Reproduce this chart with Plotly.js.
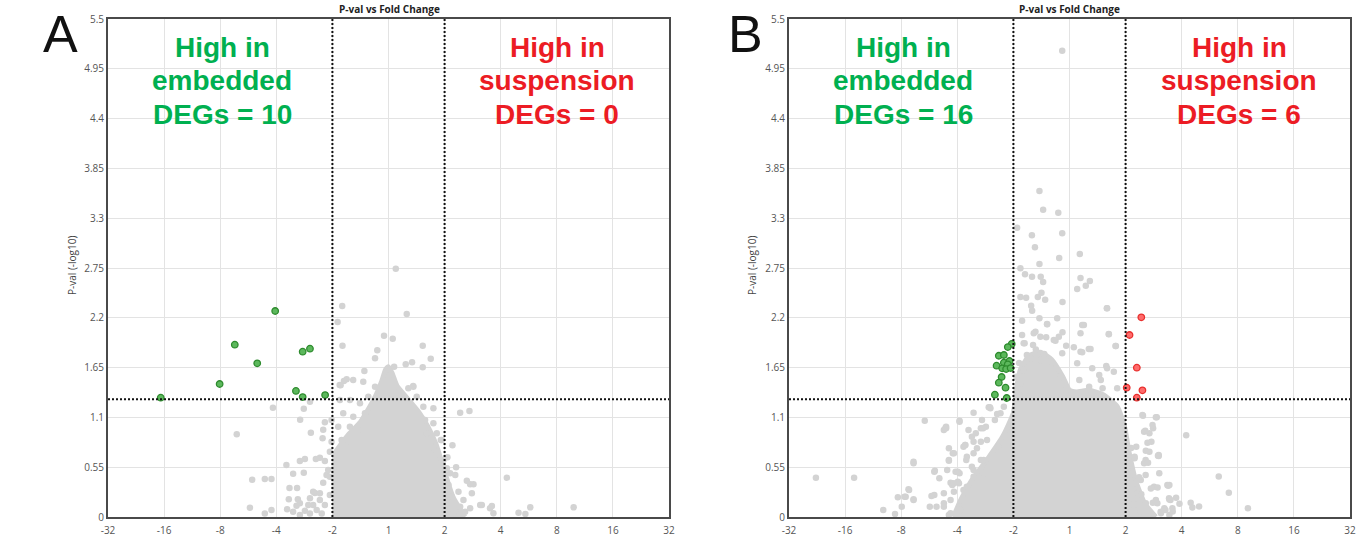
<!DOCTYPE html>
<html>
<head>
<meta charset="utf-8">
<script src="https://cdn.plot.ly/plotly-3.0.1.min.js"></script>
<style>
html,body{margin:0;padding:0;background:#fff;}
#chart{width:1365px;height:538px;}
</style>
</head>
<body>
<div id="chart"></div>
<script>
// ---------- axis ticks (x = log2 fold change, labelled as fold change) ----------
const fcTickVals = [-5,-4,-3,-2,-1,0,1,2,3,4,5];
const fcTickText = ['-32','-16','-8','-4','-2','1','2','4','8','16','32'];
const pTickVals = [0,0.55,1.1,1.65,2.2,2.75,3.3,3.85,4.4,4.95,5.5];
const pTickText = ['0','0.55','1.1','1.65','2.2','2.75','3.3','3.85','4.4','4.95','5.5'];
const pThreshold = 1.301;   // -log10(0.05)
const fcThreshold = 1;      // log2(2)

// ---------- Panel A ----------
const aUpX = [-4.06,-3.01,-2.74,-2.34,-2.02,-1.65,-1.53,-1.40,-1.53,-1.13];
const aUpY = [1.318,1.469,1.903,1.697,2.275,1.392,1.826,1.859,1.325,1.347];

// envelope of the dense (fully overlapping) core of non-significant genes
const aCoreX = [-0.955,-0.955,-0.85,-0.70,-0.50,-0.35,-0.22,-0.12,-0.05,0.0,0.07,0.15,0.35,0.55,0.70,0.85,0.95,1.05,1.15,1.30,1.36];
const aCoreY = [0,0.70,0.80,0.92,1.05,1.20,1.35,1.50,1.63,1.66,1.58,1.45,1.30,1.15,1.00,0.80,0.60,0.40,0.22,0.06,0];

const aGrayX = [0.13,-0.825,0.325,-0.907,-0.08,0.075,-0.82,0.61,-0.2,-0.24,0.753,0.61,0.307,0.42,0.10,-0.43,-0.63,-0.795,-0.87,0.44,0.354,
 -2.06,-1.51,-1.40,-1.575,-2.705,-1.384,-1.164,-1.175,-1.134,-1.82,-1.58,-1.49,-1.295,-1.223,-1.134,-1.70,-1.51,-2.43,-2.205,-2.086,-1.765,-1.63,-1.777,-1.616,-2.47,-2.086,-2.205,-1.807,-1.64,-1.49,-1.343,-1.312,-1.223,-1.164,-1.104,-1.075,-1.045,-1.015,-1.015,-1.19,-1.40,-1.58,-1.70,
 -1.343,-1.045,-1.58,-1.40,-1.43,-1.223,-1.28,-1.134,-1.045,
 -0.854,-0.746,-0.45,-0.24,-0.866,-0.688,-0.509,-0.36,-0.807,-0.628,-0.42,-0.688,-0.539,-0.836,-0.746,-0.896,
 0.443,0.503,0.621,0.80,0.652,0.80,0.682,0.861,1.277,1.443,0.932,1.14,0.80,0.861,0.979,1.205,1.098,1.396,1.455,1.247,1.098,1.336,1.634,1.455,1.81,1.87,1.157,
 1.05,1.19,2.11,1.515,1.486,1.664,1.843,2.318,2.527,2.44,3.30,0.95,1.04,1.07,1.13,1.277,1.366];
const aGrayY = [2.742,2.330,2.242,2.154,2.003,1.970,1.892,1.892,1.841,1.752,1.749,1.653,1.686,1.708,1.660,1.612,1.513,1.502,1.458,1.447,1.421,
 1.207,1.196,1.273,1.075,0.913,0.931,0.964,0.869,1.046,0.574,0.618,0.640,0.640,0.655,0.618,0.478,0.489,0.412,0.420,0.420,0.320,0.320,0.195,0.195,0.103,0.077,0.040,0.085,0.125,0.070,0.132,0.265,0.261,0.379,0.464,0.519,0.721,0.832,1.071,0.040,0.040,0.022,0.059,
 0.280,0.445,0.151,0.206,0.133,0.188,0.077,0.133,0.243,
 1.454,1.520,1.494,1.439,1.292,1.292,1.256,1.329,1.145,1.108,1.145,0.997,0.961,0.850,0.776,0.997,
 1.439,1.329,1.218,1.200,1.071,1.035,0.924,0.924,1.152,1.171,0.850,0.792,0.759,0.704,0.630,0.549,0.483,0.401,0.361,0.280,0.224,0.188,0.133,0.096,0.096,0.041,0.041,
 0.659,0.464,0.434,0.361,0.262,0.133,0.121,0.048,0.107,0.033,0.107,0.850,0.538,0.353,0.224,0.114,0.059];

// ---------- Panel B ----------
const bDownX = [-1.03,-1.10,-1.26,-1.17,-1.30,-1.17,-1.07,-1.10,-1.20,-1.13,-1.05,-1.21,-1.26,-1.14,-1.33,-1.12];
const bDownY = [1.911,1.877,1.781,1.789,1.671,1.704,1.723,1.686,1.642,1.634,1.645,1.546,1.483,1.428,1.351,1.314];
const bUpX = [1.28,1.07,1.20,1.02,1.30,1.20];
const bUpY = [2.205,2.010,1.649,1.428,1.399,1.318];

const bCoreX = [-2.07,-1.94,-1.75,-1.45,-1.18,-1.0,-0.95,-0.88,-0.72,-0.52,-0.32,-0.12,0.0,0.12,0.35,0.60,0.85,0.98,1.06,1.18,1.34,1.54];
const bCoreY = [0,0.188,0.40,0.65,0.90,1.15,1.40,1.62,1.78,1.82,1.74,1.55,1.40,1.38,1.40,1.35,1.22,1.00,0.72,0.40,0.15,0];

const bGrayX = [-0.13,-0.536,-0.47,-0.20,-0.934,-0.13,-0.67,-0.616,0.184,-0.184,-0.536,-0.875,
 -0.793,-0.668,-0.513,-0.47,0.196,0.363,0.137,0.29,-0.875,-0.773,-0.565,-0.50,-0.434,-0.684,-0.666,-0.125,0.666,-0.536,-0.845,-0.22,0.256,-0.399,-0.125,0.196,0.702,-0.845,-0.607,-0.416,-0.25,-0.06,0.226,0.375,0.827,-0.80,0.077,-0.13,0.655,0.79,0.558,
 1.31,1.556,1.49,1.424,1.39,1.424,1.577,1.357,1.60,1.357,1.506,1.744,1.774,1.566,1.834,1.625,
 -2.58,-1.96,-2.21,-1.80,-1.71,-1.56,-1.42,-1.58,-2.15,-2.08,-1.89,-1.71,-2.78,-2.15,-2.41,-2.32,-2.03,-1.97,-2.09,-2.41,-2.86,-2.78,-2.92,-2.24,-1.91,
 -4.52,-3.84,-3.32,-3.11,-3.06,-2.94,-2.87,-2.99,-2.78,-2.78,-2.40,-2.46,-2.49,-2.37,-2.24,-2.20,-2.15,-2.12,-2.06,-2.15,-1.99,-1.99,-1.96,-1.857,-1.84,-1.89,-1.67,-1.58,-1.49,-1.44,-1.29,-1.17,-1.71,-1.74,-1.58,-1.71,-1.53,
 -0.40,-0.637,-0.817,-0.52,-0.28,-0.76,-0.82,-0.875,-0.52,-1.41,-1.23,-1.96,-2.20,-1.54,-1.33,-1.74,-1.47,-2.06,-1.86,-1.65,-1.27,-1.83,-1.53,-2.18,-1.96,-1.71,-2.06,-1.83,-2.24,-2.12,-2.24,-1.94,-2.12,
 -0.95,-0.90,-0.70,-0.60,-0.45,-0.35,-0.65,-0.90,-0.92,
 0.67,0.226,0.70,-0.19,0.82,0.344,0.196,0.137,0.405,0.67,0.53,0.175,0.35,0.59,0.85,-0.07,-0.16,1.30,1.54,1.48,1.33,1.46,1.19,1.59,1.33,1.16,1.78,1.27,1.45,1.54,1.80,1.71,1.36,1.22,
 1.35,2.08,1.10,1.36,1.16,1.59,1.40,2.66,1.24,1.76,1.57,2.84,1.28,1.90,1.78,1.485,1.96,2.16,2.19,2.31,3.18,1.69,1.84,1.63,1.27,1.78,1.15];
const bGrayY = [5.15,3.600,3.394,3.361,3.195,3.133,3.111,2.979,2.905,2.860,2.794,2.747,
 2.680,2.654,2.654,2.595,2.639,2.606,2.518,2.555,2.430,2.422,2.430,2.477,2.400,2.334,2.279,2.374,2.305,2.194,2.168,2.194,2.120,2.128,2.040,2.029,2.018,2.010,2.046,1.985,1.947,1.892,1.819,1.855,1.888,1.918,1.874,1.808,1.668,1.605,1.513,
 1.119,1.101,0.980,0.924,0.821,0.721,0.677,0.630,0.483,0.464,0.335,0.353,0.206,0.151,0.096,0.059,
 1.064,1.064,0.986,0.961,1.152,1.071,1.211,0.980,0.759,0.703,0.776,0.832,0.593,0.630,0.501,0.427,0.501,0.372,0.353,0.243,0.298,0.188,0.224,0.151,0.059,
 0.434,0.434,0.077,0.033,0.217,0.224,0.306,0.114,0.611,0.195,0.512,0.232,0.114,0.114,0.961,0.997,0.622,0.379,0.280,0.022,0.501,0.390,0.114,0.795,0.630,0.298,0.924,0.832,0.997,1.211,1.138,1.218,0.703,0.556,0.630,0.445,0.483,
 2.131,2.029,1.918,1.991,1.955,1.789,1.623,1.477,1.734,1.200,1.145,1.053,0.980,0.980,1.071,0.887,0.850,0.703,0.795,0.759,0.776,0.666,0.630,0.519,0.483,0.519,0.372,0.335,0.262,0.188,0.114,0.077,0.041,
 1.55,1.70,1.75,1.85,1.80,1.72,1.90,1.35,1.25,
 2.305,2.120,2.021,1.991,1.888,1.855,1.826,1.697,1.642,1.642,1.568,1.513,1.439,1.421,1.421,1.403,1.550,1.126,1.101,1.016,0.942,0.832,0.776,0.685,0.593,0.666,0.353,0.409,0.316,0.188,0.188,0.077,0.151,0.262,
 0.952,0.902,0.762,0.732,0.648,0.675,0.599,0.447,0.440,0.345,0.326,0.269,0.251,0.212,0.193,0.156,0.145,0.156,0.106,0.117,0.098,0.098,0.061,0.042,0.061,0.023,0.137];

// ---------- texts ----------
const panelLetters = ['A','B'];
const plotTitle = 'P-val vs Fold Change';
const yTitle = 'P-val (-log10)';
const aLeftLines = ['High in','embedded','DEGs = 10'];
const aRightLines = ['High in','suspension','DEGs = 0'];
const bLeftLines = ['High in','embedded','DEGs = 16'];
const bRightLines = ['High in','suspension','DEGs = 6'];

// ---------- styling / layout helpers ----------
const W = 1365, H = 538;
const px = x => x / W;
const py = y => 1 - y / H;
const GRAY = '#d3d3d3';
const GREEN_TXT = '#00b050';
const RED_TXT = '#ec1c24';
const tickFont = {family:'Open Sans, DejaVu Sans, sans-serif', size:10, color:'#555'};

function coreTrace(x, y, xa, ya){
  return {x, y, xaxis:xa, yaxis:ya, type:'scatter', mode:'lines', fill:'toself',
    fillcolor:GRAY, line:{color:GRAY, width:5, shape:'spline', smoothing:0.5}, hoverinfo:'skip'};
}
function grayTrace(x, y, xa, ya){
  return {x, y, xaxis:xa, yaxis:ya, type:'scatter', mode:'markers',
    marker:{size:6.5, color:GRAY}, hoverinfo:'skip'};
}
function degTrace(x, y, xa, ya, fill, ring){
  return {x, y, xaxis:xa, yaxis:ya, type:'scatter', mode:'markers',
    marker:{size:6.5, color:fill, line:{color:ring, width:1.3}}, hoverinfo:'skip'};
}

const data = [
  coreTrace(aCoreX, aCoreY, 'x', 'y'),
  grayTrace(aGrayX, aGrayY, 'x', 'y'),
  degTrace(aUpX, aUpY, 'x', 'y', '#5cb85c', '#2e8b2e'),
  coreTrace(bCoreX, bCoreY, 'x2', 'y2'),
  grayTrace(bGrayX, bGrayY, 'x2', 'y2'),
  degTrace(bDownX, bDownY, 'x2', 'y2', '#5cb85c', '#2e8b2e'),
  degTrace(bUpX, bUpY, 'x2', 'y2', '#ff6b6b', '#e8302e')
];

function xAxis(domain, anchor){
  return {domain, anchor, range:[-5,5], tickmode:'array', tickvals:fcTickVals, ticktext:fcTickText,
    showgrid:true, gridcolor:'#e3e3e3', gridwidth:1, zeroline:false,
    showline:true, linecolor:'#4a4a4a', linewidth:2, mirror:true, ticks:'', ticklabelstandoff:3,
    tickfont:tickFont, fixedrange:true, automargin:false};
}
function yAxis(domain, anchor){
  return {domain, anchor, range:[0,5.5], tickmode:'array', tickvals:pTickVals, ticktext:pTickText,
    showgrid:true, gridcolor:'#e3e3e3', gridwidth:1, zeroline:false,
    showline:true, linecolor:'#4a4a4a', linewidth:2, mirror:true, ticks:'',
    tickfont:tickFont, fixedrange:true, automargin:false};
}

const dotLine = {color:'#111', width:2, dash:'2px,2px'};
function thresholdShapes(xr, yr){
  return [
    {type:'line', xref:xr, yref:yr, x0:-5, x1:5, y0:pThreshold, y1:pThreshold, line:dotLine, layer:'above'},
    {type:'line', xref:xr, yref:yr, x0:-fcThreshold, x1:-fcThreshold, y0:0, y1:5.5, line:dotLine, layer:'above'},
    {type:'line', xref:xr, yref:yr, x0:fcThreshold, x1:fcThreshold, y0:0, y1:5.5, line:dotLine, layer:'above'}
  ];
}

const annotations = [];
function addText(text, xPx, yPx, font, extra){
  annotations.push(Object.assign({text, xref:'paper', yref:'paper', x:px(xPx), y:py(yPx),
    xanchor:'center', yanchor:'middle', showarrow:false, font}, extra||{}));
}
const bigFont = c => ({family:'Liberation Sans, Arial, sans-serif', size:28, color:c, weight:'bold'});
const lineYs = [47, 81, 114];
function addBlock(lines, xc, color){
  lines.forEach((t,i) => addText(t, xc, lineYs[i], bigFont(color)));
}
addBlock(aLeftLines, 222, GREEN_TXT);
addBlock(aRightLines, 557, RED_TXT);
addBlock(bLeftLines, 903, GREEN_TXT);
addBlock(bRightLines, 1239, RED_TXT);

const letterFont = {family:'Liberation Sans, Arial, sans-serif', size:52, color:'#111'};
addText(panelLetters[0], 60, 34, letterFont);
addText(panelLetters[1], 746, 34, letterFont);

const titleFont = {family:'Open Sans, DejaVu Sans, sans-serif', size:10, color:'#222', weight:'bold'};
addText(plotTitle, 389, 9, titleFont);
addText(plotTitle, 1069, 9, titleFont);

const yTitleFont = {family:'Open Sans, DejaVu Sans, sans-serif', size:10, color:'#444'};
addText(yTitle, 72, 266, yTitleFont, {textangle:-90});
addText(yTitle, 752, 266, yTitleFont, {textangle:-90});

const yDom = [1 - 517/H, 1 - 19/H];
const layout = {
  width:W, height:H, margin:{l:0, r:0, t:0, b:0},
  paper_bgcolor:'#fff', plot_bgcolor:'#fff', showlegend:false,
  xaxis: xAxis([108/W, 669/W], 'y'),
  yaxis: yAxis(yDom, 'x'),
  xaxis2: xAxis([789/W, 1350/W], 'y2'),
  yaxis2: yAxis(yDom, 'x2'),
  shapes: thresholdShapes('x','y').concat(thresholdShapes('x2','y2')),
  annotations
};

Plotly.newPlot('chart', data, layout, {staticPlot:true, displayModeBar:false});
</script>
</body>
</html>
